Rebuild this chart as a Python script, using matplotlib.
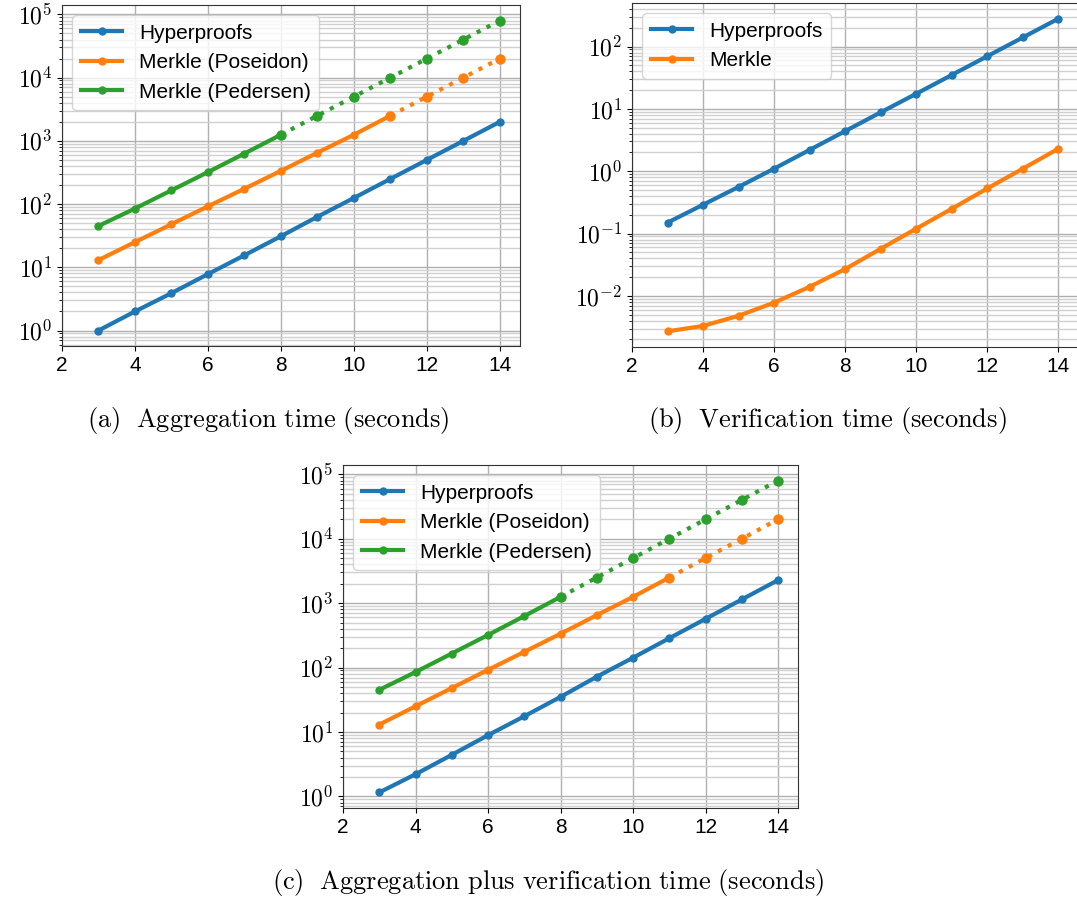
import numpy as np
import matplotlib
matplotlib.use("Agg")
from matplotlib import pyplot as plt
from matplotlib.ticker import FuncFormatter

plt.rcParams['font.family'] = ['Liberation Sans', 'DejaVu Sans']
plt.rcParams['mathtext.fontset'] = 'cm'

n = [3, 4, 5, 6, 7, 8, 9, 10, 11, 12, 13, 14]

# (a) aggregation time
agg_hyper = [1.0, 2.0, 3.9, 7.8, 15.5, 31, 63, 125, 250, 500, 1000, 2000]
agg_poseidon = [13, 25, 48, 92, 175, 335, 650, 1250, 2500, 5000, 10000, 20000]
agg_pedersen = [45, 85, 165, 320, 630, 1250, 2500, 5000, 10000, 20000, 40000, 80000]

# (b) verification time
ver_hyper = [0.15, 0.29, 0.56, 1.1, 2.2, 4.4, 8.8, 17.5, 35, 70, 140, 280]
ver_merkle = [0.0027, 0.0033, 0.0048, 0.0078, 0.014, 0.027, 0.057, 0.12, 0.25, 0.53, 1.1, 2.3]

# (c) aggregation + verification
tot_hyper = [1.15, 2.2, 4.4, 8.9, 17.5, 35, 72, 142, 285, 570, 1140, 2280]
tot_poseidon = [13, 25, 48, 92, 175, 335, 650, 1250, 2500, 5000, 10000, 20000]
tot_pedersen = [45, 85, 165, 320, 630, 1250, 2500, 5000, 10000, 20000, 40000, 80000]

poseidon_cut = 11   # measured up to here, extrapolated after
pedersen_cut = 8

blue, orange, green = '#1f77b4', '#ff7f0e', '#2ca02c'

fig = plt.figure(figsize=(10.77, 8.98), dpi=100)
W, H = 1077.0, 898.0


def make_ax(l, r, t, b):
    return fig.add_axes([l / W, 1 - b / H, (r - l) / W, (b - t) / H])


def split_plot(ax, ys, cut, color, label):
    i = n.index(cut)
    ax.plot(n[:i + 1], ys[:i + 1], '-o', color=color, lw=3, ms=5, label=label)
    ax.plot(n[i:], ys[i:], ':o', color=color, lw=3, ms=6.5)


def pow_label(v, pos):
    e = int(round(np.log10(v)))
    return r'$\mathbf{10}^{\mathbf{%d}}$' % e


def style(ax):
    ax.set_yscale('log')
    ax.yaxis.set_major_formatter(FuncFormatter(pow_label))
    ax.grid(True, which='major', color='#b0b0b0', lw=1)
    ax.grid(True, which='minor', color='#d0d0d0', lw=1)
    ax.set_xticks([2, 4, 6, 8, 10, 12, 14])
    ax.tick_params(axis='x', labelsize=15)
    ax.tick_params(axis='y', labelsize=17)
    for s in ax.spines.values():
        s.set_color('#333333')
    ax.margins(x=0.05)
    ax.set_xlim(left=2)


ax1 = make_ax(62, 520, 5, 346)
ax1.plot(n, agg_hyper, '-o', color=blue, lw=3, ms=5, label='Hyperproofs')
split_plot(ax1, agg_poseidon, poseidon_cut, orange, 'Merkle (Poseidon)')
split_plot(ax1, agg_pedersen, pedersen_cut, green, 'Merkle (Pedersen)')
style(ax1)
ax1.legend(loc='upper left', fontsize=15)

ax2 = make_ax(632, 1078, 3, 347)
ax2.plot(n, ver_hyper, '-o', color=blue, lw=3, ms=5, label='Hyperproofs')
ax2.plot(n, ver_merkle, '-o', color=orange, lw=3, ms=5, label='Merkle')
style(ax2)
ax2.legend(loc='upper left', fontsize=15)

ax3 = make_ax(343, 798, 465, 808)
ax3.plot(n, tot_hyper, '-o', color=blue, lw=3, ms=5, label='Hyperproofs')
split_plot(ax3, tot_poseidon, poseidon_cut, orange, 'Merkle (Poseidon)')
split_plot(ax3, tot_pedersen, pedersen_cut, green, 'Merkle (Pedersen)')
style(ax3)
ax3.legend(loc='upper left', fontsize=15)

fig.text(268 / W, 1 - 420 / H, r'$\mathrm{(a)\ \ Aggregation\ time\ (seconds)}$',
         ha='center', va='center', fontsize=19)
fig.text(827 / W, 1 - 420 / H, r'$\mathrm{(b)\ \ Verification\ time\ (seconds)}$',
         ha='center', va='center', fontsize=19)
fig.text(548 / W, 1 - 882 / H, r'$\mathrm{(c)\ \ Aggregation\ plus\ verification\ time\ (seconds)}$',
         ha='center', va='center', fontsize=19)

fig.savefig('out.png', dpi=100)
